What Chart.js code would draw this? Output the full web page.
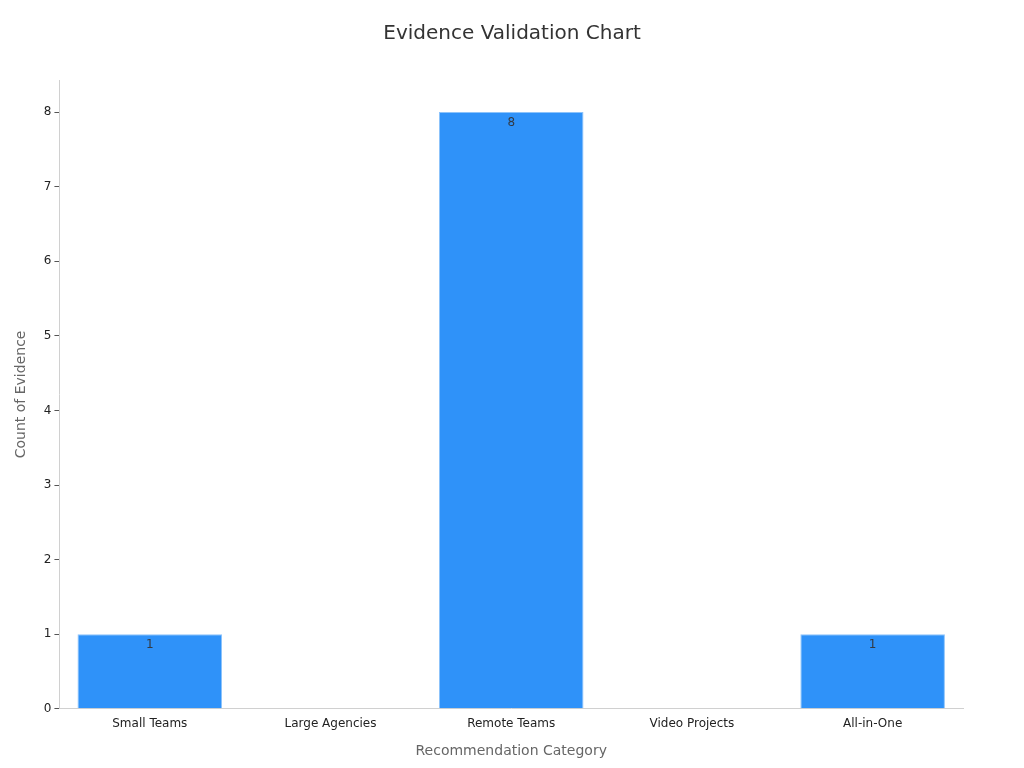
<!DOCTYPE html>
<html><head><meta charset="utf-8">
<script src="https://cdn.jsdelivr.net/npm/chart.js@4/dist/chart.umd.min.js"></script>
<style>html,body{margin:0;padding:0;background:#fff}#wrap{width:1024px;height:768px}</style>
</head><body><div id="wrap"><canvas id="c" width="1024" height="768"></canvas></div>
<script>
const categories = ["Small Teams", "Large Agencies", "Remote Teams", "Video Projects", "All-in-One"];
const counts = [1, 0, 8, 0, 1];
const yTicks = [0, 1, 2, 3, 4, 5, 6, 7, 8];
const chartTitle = "Evidence Validation Chart";

const labelPlugin = {
  id: 'barLabels',
  afterDatasetsDraw(chart) {
    const ctx = chart.ctx;
    const meta = chart.getDatasetMeta(0);
    ctx.save();
    ctx.font = '12px "DejaVu Sans"';
    ctx.fillStyle = '#333a44';
    ctx.textAlign = 'center';
    ctx.textBaseline = 'top';
    meta.data.forEach((bar, i) => {
      const v = counts[i];
      if (!v) return;
      ctx.fillText(String(v), bar.x, bar.y + 5);
    });
    ctx.restore();
  },
  afterDraw(chart) {
    const ctx = chart.ctx;
    ctx.save();
    ctx.font = '20px "DejaVu Sans"';
    ctx.fillStyle = '#333333';
    ctx.textAlign = 'center';
    ctx.textBaseline = 'middle';
    ctx.fillText(chartTitle, chart.width / 2, 34);
    ctx.restore();
  }
};

Chart.defaults.font.family = '"DejaVu Sans", sans-serif';
new Chart(document.getElementById('c'), {
  type: 'bar',
  data: {
    labels: categories,
    datasets: [{
      data: counts,
      backgroundColor: '#2f92f9',
      borderColor: '#8cc3fb',
      borderWidth: 1,
      barPercentage: 0.8,
      categoryPercentage: 1.0
    }]
  },
  options: {
    responsive: false,
    animation: false,
    layout: { padding: { left: 9, right: 61, top: 80, bottom: 4 } },
    plugins: {
      legend: { display: false },
      tooltip: { enabled: false },
      title: { display: false }
    },
    scales: {
      x: {
        grid: { display: false, drawTicks: true, tickLength: 5, color: '#cccccc' },
        border: { display: true, color: '#d0d0d0' },
        ticks: { color: '#222222', font: { size: 12 }, padding: 3 },
        title: { display: true, text: 'Recommendation Category', color: '#666666', font: { size: 14 }, padding: { top: 9 } }
      },
      y: {
        min: 0,
        max: 8.43,
        afterBuildTicks(axis) { axis.ticks = yTicks.map(v => ({ value: v })); },
        grid: { display: true, drawOnChartArea: false, drawTicks: true, tickLength: 5, color: '#555555' },
        border: { display: true, color: '#d0d0d0' },
        ticks: { color: '#222222', font: { size: 12 }, padding: 3 },
        title: { display: true, text: 'Count of Evidence', color: '#666666', font: { size: 14 }, padding: { bottom: 11 } }
      }
    }
  },
  plugins: [labelPlugin]
});
</script></body></html>
